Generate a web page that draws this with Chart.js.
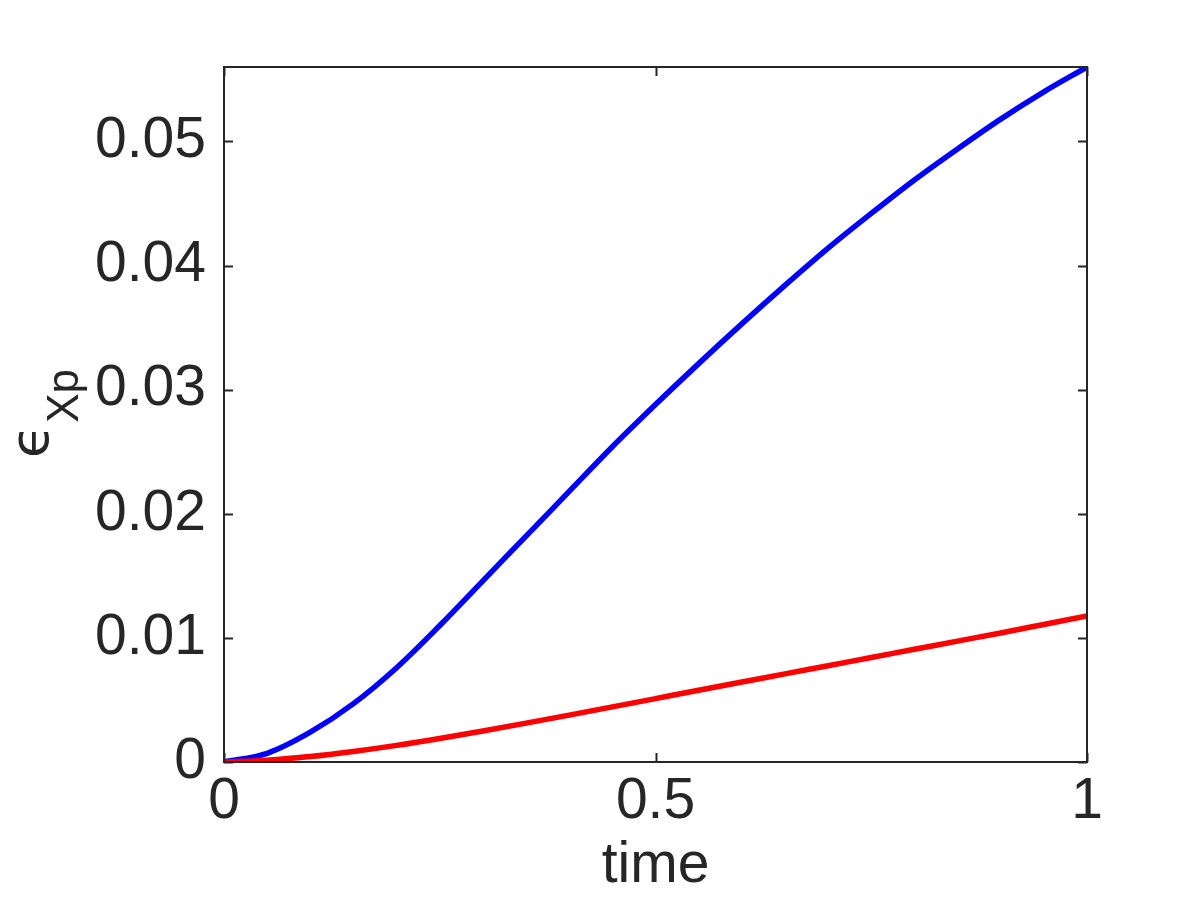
<!DOCTYPE html>
<html>
<head>
<meta charset="utf-8">
<script src="https://cdn.jsdelivr.net/npm/chart.js@4/dist/chart.umd.min.js"></script>
<style>
  html, body { margin: 0; padding: 0; background: #fff; }
  #plot { display: block; }
</style>
</head>
<body>
<canvas id="plot" width="1200" height="900"></canvas>
<script>
// datos
const time = [0, 0.05, 0.1, 0.15, 0.2, 0.25, 0.3, 0.35, 0.4, 0.45, 0.5,
              0.55, 0.6, 0.65, 0.7, 0.75, 0.8, 0.85, 0.9, 0.95, 1];
const blueErr = [0, 0.0007, 0.0024, 0.0047, 0.0076, 0.0110, 0.0146, 0.0182, 0.0218, 0.0254, 0.0288,
                 0.0321, 0.0353, 0.0384, 0.0414, 0.0442, 0.0469, 0.0494, 0.0518, 0.0540, 0.0560];
const redErr = [0, 0.00015, 0.00044, 0.00085, 0.00134, 0.00190, 0.00250, 0.00313, 0.00378, 0.00444, 0.00511,
                0.00578, 0.00644, 0.00710, 0.00776, 0.00842, 0.00908, 0.00974, 0.01040, 0.01108, 0.01176];
const xTicks = [0, 0.5, 1];
const yTicks = [0, 0.01, 0.02, 0.03, 0.04, 0.05];

const ink = '#262626';
const fontMain = { family: "'Liberation Sans', Arial, sans-serif", size: 57 };

const toPoints = ys => time.map((t, i) => ({ x: t, y: ys[i] }));

// caja y marcas hacia dentro, estilo MATLAB
const boxTicks = {
    id: 'boxTicks',
    afterDatasetsDraw(chart) {
        const { ctx, chartArea: a, scales } = chart;
        const len = 9;
        ctx.save();
        ctx.strokeStyle = ink;
        ctx.lineWidth = 2;
        ctx.beginPath();
        scales.x.ticks.forEach((t, i) => {
            const px = Math.round(scales.x.getPixelForTick(i)) + 0.5;
            ctx.moveTo(px, a.bottom); ctx.lineTo(px, a.bottom - len);
            ctx.moveTo(px, a.top); ctx.lineTo(px, a.top + len);
        });
        scales.y.ticks.forEach((t, i) => {
            const py = Math.round(scales.y.getPixelForTick(i)) + 0.5;
            ctx.moveTo(a.left, py); ctx.lineTo(a.left + len, py);
            ctx.moveTo(a.right, py); ctx.lineTo(a.right - len, py);
        });
        ctx.stroke();
        ctx.strokeRect(a.left, a.top, a.right - a.left, a.bottom - a.top);

        // etiqueta del eje y: epsilon con subindice Xp
        ctx.fillStyle = ink;
        ctx.translate(48, (a.top + a.bottom) / 2);
        ctx.rotate(-Math.PI / 2);
        ctx.font = "54px 'DejaVu Sans', sans-serif";
        const w1 = ctx.measureText('\u03f5').width;
        ctx.font = "44px 'Liberation Sans', Arial, sans-serif";
        const w2 = ctx.measureText('Xp').width;
        const x0 = -(w1 + w2) / 2;
        ctx.textBaseline = 'alphabetic';
        ctx.font = "54px 'DejaVu Sans', sans-serif";
        ctx.fillText('\u03f5', x0, 0);
        ctx.font = "44px 'Liberation Sans', Arial, sans-serif";
        ctx.fillText('Xp', x0 + w1 + 2, 30);
        ctx.restore();
    }
};

new Chart(document.getElementById('plot'), {
    type: 'line',
    data: {
        datasets: [
            { data: toPoints(redErr), borderColor: '#ff0000', borderWidth: 5.5 },
            { data: toPoints(blueErr), borderColor: '#0000ff', borderWidth: 5.5 }
        ]
    },
    options: {
        responsive: false,
        animation: false,
        devicePixelRatio: 1,
        layout: { padding: { left: 0, top: 67, right: 113, bottom: 0 } },
        elements: {
            point: { radius: 0 },
            line: { cubicInterpolationMode: 'monotone', borderCapStyle: 'butt' }
        },
        plugins: {
            legend: { display: false },
            tooltip: { enabled: false }
        },
        scales: {
            x: {
                type: 'linear',
                min: 0,
                max: 1,
                afterBuildTicks: s => { s.ticks = xTicks.map(v => ({ value: v })); },
                afterFit: s => { s.height = 138; },
                grid: { display: false, drawTicks: false },
                border: { display: false },
                ticks: { color: ink, font: fontMain, padding: 6, maxRotation: 0,
                         callback: v => String(v) },
                title: { display: true, text: 'time', color: ink, font: fontMain,
                         padding: { top: -18, bottom: 0 } }
            },
            y: {
                type: 'linear',
                min: 0,
                max: 0.056,
                afterBuildTicks: s => { s.ticks = yTicks.map(v => ({ value: v })); },
                afterFit: s => { s.width = 224; },
                grid: { display: false, drawTicks: false },
                border: { display: false },
                ticks: { color: ink, font: fontMain, padding: 18,
                         callback: v => String(v) }
            }
        }
    },
    plugins: [boxTicks]
});
</script>
</body>
</html>
